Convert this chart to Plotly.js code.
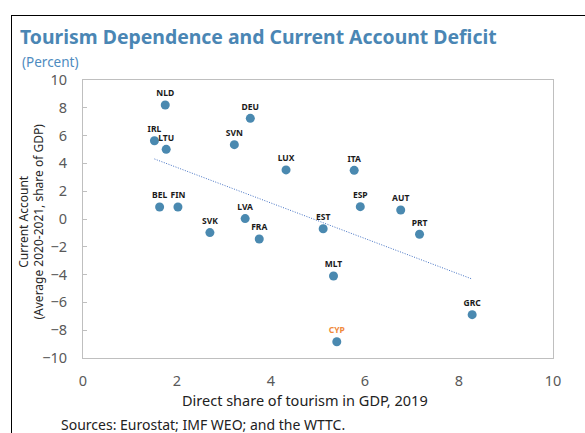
<!DOCTYPE html>
<html>
<head>
<meta charset="utf-8">
<script src="https://cdn.plot.ly/plotly-3.0.1.min.js"></script>
<style>
  html, body { margin: 0; padding: 0; background: #fff; }
  #chart { width: 585px; height: 433px; }
  #frame { position: absolute; left: 11px; top: 15px; width: 600px; height: 450px;
           border-left: 1.5px solid #000; border-top: 1.5px solid #000; pointer-events: none; }
</style>
</head>
<body>
<div id="chart"></div>
<div id="frame"></div>
<script>
// Data
const countries = ["NLD","DEU","IRL","LTU","SVN","LUX","ITA","BEL","FIN","ESP","AUT","LVA","SVK","FRA","EST","PRT","MLT","GRC","CYP"];
const tourismShare = [1.75, 3.56, 1.52, 1.77, 3.22, 4.32, 5.77, 1.63, 2.02, 5.90, 6.76, 3.45, 2.70, 3.75, 5.11, 7.16, 5.33, 8.28, 5.40];
const currentAccount = [8.2, 7.24, 5.63, 5.01, 5.35, 3.53, 3.5, 0.86, 0.86, 0.89, 0.65, 0.03, -0.98, -1.44, -0.70, -1.10, -4.10, -6.88, -8.83];
const trendX = [1.52, 8.28];
const trendY = [4.32, -4.32];
const xTicks = [0, 2, 4, 6, 8, 10];
const yTicks = [-10, -8, -6, -4, -2, 0, 2, 4, 6, 8, 10];
const xTitle = "Direct share of tourism in GDP, 2019";
const yTitle = "Current Account<br>(Average 2020-2021, share of GDP)";

const labelColors = countries.map(c => c === "CYP" ? "#F08A3C" : "#1a1a1a");

const traces = [
  {
    x: trendX, y: trendY, type: "scatter", mode: "lines",
    line: { color: "#4472C4", width: 1, dash: "1px,1.5px" },
    hoverinfo: "skip", showlegend: false
  },
  {
    x: tourismShare, y: currentAccount, type: "scatter", mode: "markers+text",
    text: countries, textposition: "top center",
    textfont: { family: "Noto Sans, sans-serif", size: 8.5, color: labelColors, weight: "bold" },
    marker: { color: "#4A89B0", size: 9 },
    cliponaxis: false, showlegend: false
  }
];

const layout = {
  width: 585, height: 433,
  margin: { l: 83, r: 32, t: 80, b: 75 },
  paper_bgcolor: "#fff", plot_bgcolor: "#fff",
  font: { family: "Noto Sans, sans-serif", color: "#222" },
  title: {
    text: "<b>Tourism Dependence and Current Account Deficit</b>",
    font: { family: "Noto Sans, sans-serif", size: 19.4, color: "#4A86B4" },
    xref: "container", yref: "container", x: 20/585, xanchor: "left",
    y: 1 - 37.5/433, yanchor: "middle"
  },
  xaxis: {
    range: [0, 10], tickvals: xTicks, showgrid: false, zeroline: false,
    showline: true, linecolor: "#BFBFBF", linewidth: 1, mirror: true,
    ticks: "", tickfont: { size: 14.5, color: "#595959" }, ticklabelstandoff: 10
  },
  xaxis2: {
    overlaying: "x", anchor: "free", position: 0.5, range: [0, 10], tickvals: xTicks,
    showline: true, linecolor: "#BFBFBF", linewidth: 1, showgrid: false, zeroline: false,
    ticks: "inside", ticklen: 5, tickcolor: "#BFBFBF", showticklabels: false
  },
  yaxis: {
    range: [-10, 10], tickvals: yTicks, showgrid: false, zeroline: false,
    showline: true, linecolor: "#BFBFBF", linewidth: 1, mirror: true,
    ticks: "inside", ticklen: 4, tickcolor: "#BFBFBF",
    tickfont: { size: 14.5, color: "#595959" }, ticklabelstandoff: 12
  },
  annotations: [
    { text: "(Percent)", xref: "paper", yref: "paper", x: (20-83)/470, y: 1 + (80-62)/278,
      xanchor: "left", yanchor: "middle", showarrow: false,
      font: { family: "Noto Sans, sans-serif", size: 13.5, color: "#4E8BC0" } },
    { text: xTitle, xref: "paper", yref: "paper", x: (305-83)/470, y: -(400-358)/278,
      xanchor: "center", yanchor: "middle", showarrow: false,
      font: { family: "Noto Sans, sans-serif", size: 14.5, color: "#222" } },
    { text: yTitle, textangle: -90, xref: "paper", yref: "paper", x: (31.5-83)/470, y: (358-222)/278,
      xanchor: "center", yanchor: "middle", showarrow: false,
      font: { family: "Noto Sans, sans-serif", size: 12, color: "#262626" } },
    { text: "Sources: Eurostat; IMF WEO; and the WTTC.", xref: "paper", yref: "paper",
      x: (59-83)/470, y: -(424-358)/278, xanchor: "left", yanchor: "middle", showarrow: false,
      font: { family: "Noto Sans, sans-serif", size: 14, color: "#222" } }
  ]
};

Plotly.newPlot("chart", traces, layout, { displayModeBar: false, staticPlot: true });
</script>
</body>
</html>
